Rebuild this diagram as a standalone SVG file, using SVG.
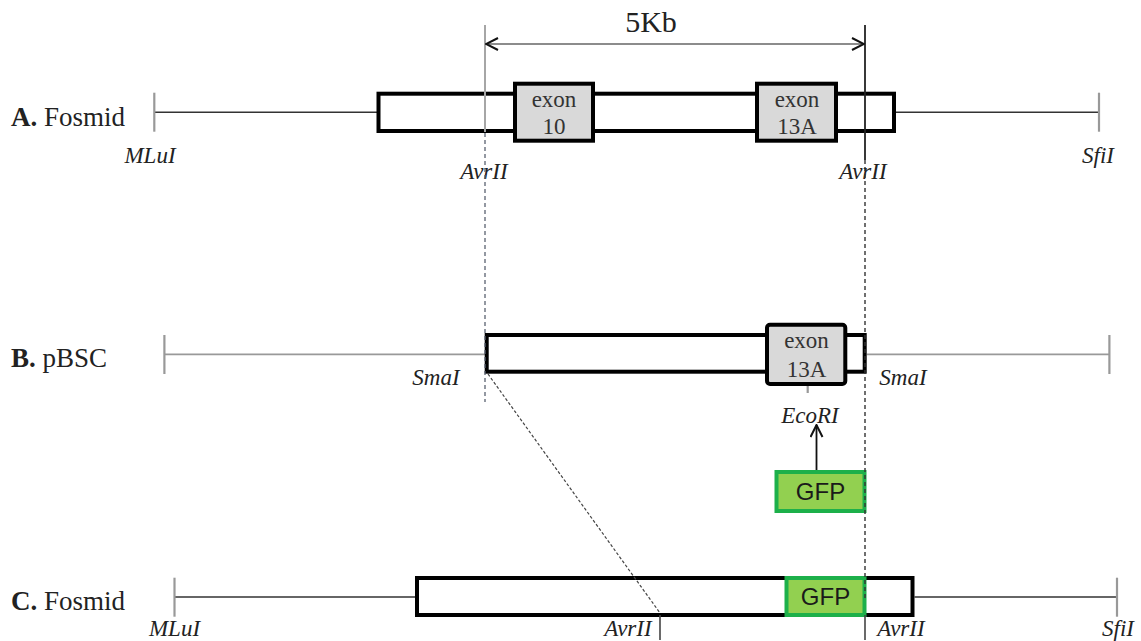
<svg xmlns="http://www.w3.org/2000/svg" width="1141" height="641" viewBox="0 0 1141 641">
  <defs>
    <style>
      .lbl { font-family: "Liberation Serif", "Times New Roman", serif; font-size: 27px; fill: #222; }
      .lbl .b { font-weight: bold; }
      .enz { font-family: "Liberation Serif", "Times New Roman", serif; font-style: italic; font-size: 23px; fill: #222; text-anchor: middle; }
      .ex { font-family: "Liberation Serif", "Times New Roman", serif; font-size: 23px; fill: #333; text-anchor: middle; }
      .gfp { font-family: "Liberation Sans", Arial, sans-serif; font-size: 24px; fill: #1a1a1a; text-anchor: middle; }
      .box { fill: #fff; stroke: #000; stroke-width: 4; }
      .exon { fill: #d9d9d9; stroke: #000; stroke-width: 4; }
      .gfpbox { fill: #92d050; stroke: #1db04a; stroke-width: 4; }
      .bb { stroke: #333; stroke-width: 1.6; fill: none; }
      .bg { stroke: #999; stroke-width: 1.8; fill: none; }
      .tick { stroke: #999; stroke-width: 2.2; }
      .dtick { stroke: #444; stroke-width: 1.6; }
    </style>
    <marker id="open" viewBox="0 0 14 14" refX="13" refY="7" markerWidth="14" markerHeight="14" markerUnits="userSpaceOnUse" orient="auto-start-reverse">
      <path d="M1,1 L13,7 L1,13" fill="none" stroke="#111" stroke-width="2"/>
    </marker>
  </defs>
  <rect width="1141" height="641" fill="#fff"/>

  <!-- Row A: original fosmid -->
  <g id="row-a">
    <text class="lbl" x="11" y="126"><tspan class="b">A.</tspan> Fosmid</text>
    <line class="bb" x1="154" y1="112.3" x2="377" y2="112.3"/>
    <line class="bb" x1="896" y1="112.3" x2="1099" y2="112.3"/>
    <line class="tick" x1="154.3" y1="92.7" x2="154.3" y2="131.7"/>
    <line class="tick" x1="1099" y1="92.7" x2="1099" y2="131.7"/>
    <rect class="box" x="378.5" y="93.7" width="515.5" height="37.3"/>
    <g id="exon-10">
      <rect class="exon" x="515" y="83.7" width="78" height="57"/>
      <text class="ex" x="554" y="107">exon</text>
      <text class="ex" x="554" y="134">10</text>
    </g>
    <g id="exon-13a-a">
      <rect class="exon" x="757" y="83.7" width="79" height="57"/>
      <text class="ex" x="797" y="107">exon</text>
      <text class="ex" x="797" y="134">13A</text>
    </g>
    <text class="enz" x="150" y="163">MLuI</text>
    <text class="enz" x="484" y="179">AvrII</text>
    <text class="enz" x="863" y="179">AvrII</text>
    <text class="enz" x="1098" y="163">SfiI</text>
  </g>

  <!-- Row B: pBSC subclone -->
  <g id="row-b">
    <text class="lbl" x="11" y="367"><tspan class="b">B.</tspan> pBSC</text>
    <line class="bg" x1="164.4" y1="354.3" x2="485" y2="354.3"/>
    <line class="bg" x1="866.7" y1="354.3" x2="1109.4" y2="354.3"/>
    <line class="tick" x1="164.4" y1="335" x2="164.4" y2="374"/>
    <line class="tick" x1="1109.4" y1="335" x2="1109.4" y2="374"/>
    <rect class="box" x="486.7" y="335" width="378" height="36.7"/>
    <g id="exon-13a-b">
      <rect class="exon" x="767" y="324.7" width="78.3" height="59.3" rx="3"/>
      <text class="ex" x="806.5" y="348">exon</text>
      <text class="ex" x="806.5" y="377">13A</text>
    </g>
    <line class="tick" x1="807.7" y1="386" x2="807.7" y2="393"/>
    <text class="enz" x="436" y="385">SmaI</text>
    <text class="enz" x="903" y="385">SmaI</text>
    <text class="enz" x="810" y="423">EcoRI</text>
  </g>

  <!-- GFP insert -->
  <g id="gfp-insert">
    <rect class="gfpbox" x="776.5" y="472" width="88" height="39"/>
    <text class="gfp" x="820.5" y="500">GFP</text>
  </g>

  <!-- Row C: recombined fosmid -->
  <g id="row-c">
    <text class="lbl" x="11" y="610"><tspan class="b">C.</tspan> Fosmid</text>
    <line class="bb" x1="174.5" y1="597" x2="415" y2="597"/>
    <line class="bb" x1="914.5" y1="597" x2="1117" y2="597"/>
    <line class="tick" x1="174.5" y1="577.7" x2="174.5" y2="616.7"/>
    <line class="tick" x1="1117" y1="577.7" x2="1117" y2="616.7"/>
    <rect class="box" x="417" y="578" width="495.5" height="37"/>
    <g id="gfp-c">
      <rect class="gfpbox" x="786.5" y="578" width="78" height="37"/>
      <text class="gfp" x="825.5" y="605">GFP</text>
    </g>
    <line class="dtick" x1="660" y1="615" x2="660" y2="640"/>
    <line class="dtick" x1="865" y1="615" x2="865" y2="640"/>
    <text class="enz" x="174.5" y="636">MLuI</text>
    <text class="enz" x="628" y="636">AvrII</text>
    <text class="enz" x="901" y="636">AvrII</text>
    <text class="enz" x="1118" y="636">SfiI</text>
  </g>

  <!-- Guide lines, span arrow and insertion arrows -->
  <g id="connectors">
    <line x1="485" y1="25" x2="485" y2="132" stroke="#a6a6a6" stroke-width="2"/>
    <line x1="485" y1="133" x2="485" y2="402" stroke="#5a6270" stroke-width="1.3" stroke-dasharray="4 3"/>
    <line x1="865" y1="25" x2="865" y2="160" stroke="#222" stroke-width="1.8"/>
    <line x1="865" y1="160" x2="865" y2="600" stroke="#333" stroke-width="1.4" stroke-dasharray="4 3"/>
    <line x1="486" y1="44" x2="864" y2="44" stroke="#8c8c8c" stroke-width="2.2" marker-start="url(#open)" marker-end="url(#open)"/>
    <text x="651" y="32" text-anchor="middle" font-family="Liberation Serif, Times New Roman, serif" font-size="30" fill="#222">5Kb</text>
    <line x1="488" y1="374" x2="660" y2="613" stroke="#444" stroke-width="1.2" stroke-dasharray="3 2"/>
    <line x1="816.5" y1="470" x2="816.5" y2="425" stroke="#111" stroke-width="1.8" marker-end="url(#open)"/>
  </g>
</svg>
